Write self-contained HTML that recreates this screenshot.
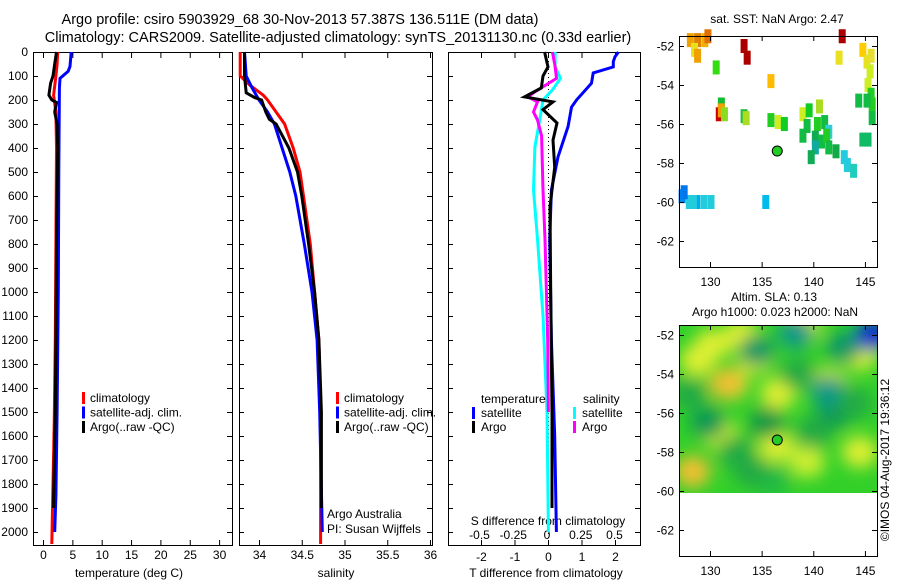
<!DOCTYPE html>
<html><head><meta charset="utf-8"><style>
html,body{margin:0;padding:0;background:#fff}
svg{display:block;font-family:"Liberation Sans",sans-serif}
</style></head><body>
<svg id="c" width="900" height="580" viewBox="0 0 900 580">
<defs>
<clipPath id="cp2"><rect x="679" y="325" width="198" height="168"/></clipPath>
<filter id="bl" x="-50%" y="-50%" width="200%" height="200%"><feGaussianBlur stdDeviation="8"/></filter>
</defs>
<g font-size="14.5" text-anchor="middle">
<text x="300" y="24">Argo profile: csiro 5903929_68 30-Nov-2013 57.387S 136.511E (DM data)</text>
<text x="338" y="42">Climatology: CARS2009. Satellite-adjusted climatology: synTS_20131130.nc (0.33d earlier)</text>
</g>
<g id="g"></g>
</svg>
<script>
// ---- data ----
const tDepth=[0,50,100,180,250,400,800,1200,1550,1800,2050];
const tClim=[2.5,2.4,2.2,1.8,2.2,2.3,2.2,2.1,1.9,1.7,1.5];
const tSatDepth=[0,60,80,110,150,500,1000,1500,1850,2000];
const tSat=[4.8,4.6,4.3,2.9,2.8,2.7,2.6,2.4,2.2,2.0];
const tArgoDepth=[0,50,100,130,180,200,210,250,300,400,800,1200,1500,1850,1900];
const tArgo=[2.3,2.0,1.7,1.3,1.0,1.5,2.3,2.0,2.4,2.5,2.3,2.2,2.1,1.8,1.8];
const sDepth=[0,100,140,180,200,250,300,400,500,600,800,1000,1200,1500,2050];
const sClim=[33.78,33.78,33.9,34.05,34.1,34.2,34.3,34.4,34.48,34.52,34.6,34.65,34.7,34.72,34.72];
const sSatDepth=[0,100,150,200,250,300,400,500,600,800,1000,1200,1500,2000];
const sSat=[33.83,33.85,33.92,34.0,34.1,34.18,34.27,34.36,34.43,34.53,34.62,34.68,34.71,34.74];
const sArgoDepth=[0,100,170,190,200,250,280,300,400,500,600,800,1000,1200,1500,1900];
const sArgo=[33.83,33.83,33.85,33.95,34.03,34.08,34.12,34.2,34.35,34.45,34.5,34.58,34.65,34.7,34.73,34.73];
const dTSatDepth=[0,20,40,62,87,130,200,230,310,437,575,780,1200,1600,2000];
const dTSat=[2.1,2.0,1.95,1.95,1.35,1.3,0.85,0.7,0.6,0.3,0.1,0.05,0.1,0.2,0.25];
const dTArgoDepth=[0,62,100,150,187,208,240,296,367,480,645,1000,1500,1900];
const dTArgo=[-0.1,0,-0.15,-0.2,-0.7,0.15,-0.15,0.27,0.15,0.2,0.06,0.08,0.12,0.12];
const dSSatDepth=[0,62,110,158,200,270,395,575,780,1100,1500,2000];
const dSSat=[0.06,0.06,0.1,0.04,-0.03,-0.05,-0.09,-0.1,-0.07,-0.03,0,0.01];
const dSArgoDepth=[0,60,110,166,187,208,250,283,350,575,780,1200,1500];
const dSArgo=[0.04,0.06,0.07,-0.09,-0.14,-0.07,-0.1,-0.07,-0.04,-0.03,-0.015,0.005,0.01];
const depthTicks=[0,100,200,300,400,500,600,700,800,900,1000,1100,1200,1300,1400,1500,1600,1700,1800,1900,2000];
const tTicks=[0,5,10,15,20,25,30];
const sTicks=[34,34.5,35,35.5,36];
const dTTicks=[-2,-1,0,1,2];
const dSTicks=[-0.5,-0.25,0,0.25,0.5];
const dSTickLabels=["-0.5","-0.25","0","0.25","0.5"];
const lonTicks=[130,135,140,145];
const latTicks=[-52,-54,-56,-58,-60,-62];
// SST cells: lon, lat, colour
const sstLon=[128.1,128.8,129.5,129.8,128.5,128.8,130.6,133.3,133.6,135.9,142.8,142.5,144.8,145.2,145.6,145.5,145.3,145.6,145.7,144.4,145.2,145.7,131.1,130.9,131.1,131.4,133.3,133.5,135.9,136.6,137.2,139.0,139.6,140.6,139.4,140.4,141.1,139.0,140.2,140.8,141.5,141.3,141.5,140.2,142.2,143.0,143.3,143.9,144.8,145.3,139.8,135.4,127.3,128.0,128.7,129.4,130.1,127.5,128.4];
const sstLat=[-51.7,-51.7,-51.7,-51.5,-52.2,-52.5,-53.1,-52.0,-52.6,-53.8,-51.5,-52.6,-52.2,-52.8,-52.5,-53.3,-54.0,-54.5,-55.0,-54.8,-54.8,-55.7,-55.0,-55.5,-55.3,-55.5,-55.6,-55.7,-55.8,-55.9,-56.0,-55.5,-55.3,-55.1,-56.1,-56.0,-55.9,-56.6,-56.7,-56.9,-56.4,-56.6,-57.2,-57.2,-57.4,-57.7,-58.1,-58.4,-56.8,-56.8,-57.7,-60.0,-59.7,-60.0,-60.0,-60.0,-60.0,-59.5,-60.0];
const sstCol=["#f0a000","#e08000","#f0b000","#e07000","#e8e020","#f0a000","#33dd11","#aa0000","#aa0000","#ffbb00","#aa0000","#e8e020","#ffcc00","#e8e020","#e8e030","#ccee22","#ccee22","#22cc22","#22cc22","#11bb44","#11bb44","#11bb44","#11bb33","#cc0000","#f0a000","#88dd22","#22bb44","#aadd22","#22cc22","#ccee22","#11cc22","#ccee22","#11cc22","#aadd22","#11bb44","#22cc22","#11bb44","#11bb44","#11aa55","#11bb44","#33ccdd","#22cc22","#11bb44","#11aaa0","#11aa44","#22ccdd","#22ccdd","#22ccbb","#11bb66","#11bb66","#11aa55","#00bbee","#0088ee","#22ccdd","#00aaee","#22ccdd","#22ccdd","#0077ee","#22ccdd"];
// SLA blobs: lon, lat, colour
const slaLon=[130.2,128.8,132.0,131.7,134.3,136.6,136.4,133.0,139.0,141.5,144.5,128.3,144.5,131.0,139.4,134.5,129.8,138.3,143.0,135.5,142.0,145.8,141.5,136.0,128.0,134.0,140.0,144.0,132.5,138.5];
const slaLat=[-52.5,-53.3,-54.5,-54.5,-53.2,-55.0,-57.7,-52.0,-51.6,-54.5,-53.0,-59.0,-58.0,-57.1,-58.5,-52.8,-56.5,-51.9,-52.6,-56.5,-56.0,-52.0,-54.9,-59.5,-55.0,-59.0,-57.0,-55.5,-58.0,-54.0];
const slaCol=["#ddee33","#ddee33","#ddee33","#f0c030","#ddee33","#ddee33","#ddee33","#ddee33","#ddee33","#ddee33","#ddee33","#f0c030","#ddee33","#ccee33","#ccee33","#119966","#119955","#119988","#119966","#119944","#119955","#1133cc","#119988","#22bb44","#22aa44","#22aa44","#22aa44","#22aa44","#22aa44","#22aa44"];

const NS="http://www.w3.org/2000/svg";
const G=document.getElementById('g');
function mk(t,a,p){const e=document.createElementNS(NS,t);for(const k in a)e.setAttribute(k,a[k]);(p||G).appendChild(e);return e;}
const yD=d=>52+d*0.24;
const xT=v=>43+v*5.87;
const xS=v=>259+(v-34)*85.5;
const xDT=v=>548+v*33.5;
const xDS=v=>547+v*135;
function stepPath(xs,ds,fx){let p='';for(let i=0;i<xs.length;i++){const x=fx(xs[i]),y=yD(ds[i]);p+=(i?'L':'M')+x.toFixed(1)+','+y.toFixed(1);}return p;}
function line(xs,ds,fx,col,name,par){const e=mk('path',{d:stepPath(xs,ds,fx),fill:'none',stroke:col,'stroke-width':3,'stroke-linejoin':'miter'},par);

}
function txt(x,y,s,opt,par){const e=mk('text',Object.assign({x:x,y:y,'font-size':12},opt||{}),par);e.textContent=s;return e;}

function panel(x0,x1,name){const g=mk('g',{});


const r=mk('rect',{x:x0+.5,y:52.5,width:x1-x0,height:493,fill:'none',stroke:'#000','stroke-width':1},g);


depthTicks.forEach(d=>{const y=yD(d)+.5;mk('line',{x1:x0,x2:x0+5,y1:y,y2:y,stroke:'#000'},g);mk('line',{x1:x1-5,x2:x1,y1:y,y2:y,stroke:'#000'},g);});
return g;}

// Panel 1
const p1=panel(33,232,'temperature-panel');
depthTicks.forEach(d=>{const t=txt(28,yD(d)+4,String(d),{'text-anchor':'end'},p1);

});
tTicks.forEach(v=>{const x=xT(v)+.5;mk('line',{x1:x,x2:x,y1:540,y2:545,stroke:'#000'},p1);mk('line',{x1:x,x2:x,y1:53,y2:58,stroke:'#000'},p1);
const t=txt(x,559,String(v),{'text-anchor':'middle'},p1);

});
let at=txt(129,577,'temperature (deg C)',{'text-anchor':'middle'},p1);


line(tClim,tDepth,xT,'#f00','temperature-climatology-line',p1);
line(tSat,tSatDepth,xT,'#00f','temperature-satellite-line',p1);
line(tArgo,tArgoDepth,xT,'#000','temperature-argo-line',p1);
function legend(par,x,items){items.forEach((it,i)=>{const y=398+i*14.5;const lg=mk('g',{},par);


mk('rect',{x:x,y:y-6,width:3,height:12,fill:it[1]},lg);txt(x+8,y+4,it[0],{},lg);});}
legend(p1,82,[['climatology','#f00'],['satellite-adj. clim.','#00f'],['Argo(..raw -QC)','#000']]);

// Panel 2
const p2=panel(239,432,'salinity-panel');
sTicks.forEach(v=>{const x=xS(v)+.5;mk('line',{x1:x,x2:x,y1:540,y2:545,stroke:'#000'},p2);mk('line',{x1:x,x2:x,y1:53,y2:58,stroke:'#000'},p2);
const t=txt(x,559,String(v),{'text-anchor':'middle'},p2);

});
at=txt(336,577,'salinity',{'text-anchor':'middle'},p2);


line(sClim,sDepth,xS,'#f00','salinity-climatology-line',p2);
line(sSat,sSatDepth,xS,'#00f','salinity-satellite-line',p2);
line(sArgo,sArgoDepth,xS,'#000','salinity-argo-line',p2);
legend(p2,336,[['climatology','#f00'],['satellite-adj. clim.','#00f'],['Argo(..raw -QC)','#000']]);
at=txt(327,518,'Argo Australia',{},p2);


at=txt(327,533,'PI: Susan Wijffels',{},p2);



// Panel 3
const p3=panel(448,640,'difference-panel');
mk('line',{x1:548.5,x2:548.5,y1:53,y2:545,stroke:'#000','stroke-dasharray':'1,3'},p3);
dTTicks.forEach(v=>{const x=xDT(v)+.5;mk('line',{x1:x,x2:x,y1:540,y2:545,stroke:'#000'},p3);mk('line',{x1:x,x2:x,y1:53,y2:58,stroke:'#000'},p3);
const t=txt(x,561,String(v),{'text-anchor':'middle'},p3);

});
dSTicks.forEach((v,i)=>{const t=txt(xDS(v),539,dSTickLabels[i],{'text-anchor':'middle'},p3);

});
at=txt(548,525,'S difference from climatology',{'text-anchor':'middle'},p3);


at=txt(546,577,'T difference from climatology',{'text-anchor':'middle'},p3);


line(dSSat,dSSatDepth,xDS,'#0ff','s-diff-satellite-line',p3);
line(dSArgo,dSArgoDepth,xDS,'#f0f','s-diff-argo-line',p3);
line(dTSat,dTSatDepth,xDT,'#00f','t-diff-satellite-line',p3);
line(dTArgo,dTArgoDepth,xDT,'#000','t-diff-argo-line',p3);
txt(481,403,'temperature',{},p3);txt(583,403,'salinity',{},p3);
[['satellite','#00f',472,417],['Argo','#000',472,431],['satellite','#0ff',573,417],['Argo','#f0f',573,431]].forEach(it=>{
const lg=mk('g',{},p3);


mk('rect',{x:it[2],y:it[3]-10,width:3,height:12,fill:it[1]},lg);txt(it[2]+9,it[3],it[0],{},lg);});

// maps
const mlon=v=>679+(v-127)*10.33;
function mapFrame(y0,name){const g=mk('g',{});


const mlat=v=>y0+10+(-52-v)*19.5;
return {g,mlat};}
const m1=mapFrame(36,'sst-map'),m2=mapFrame(325,'sla-map');
sstLon.forEach((lo,i)=>{const r=mk('rect',{x:mlon(lo)-3.5,y:m1.mlat(sstLat[i])-7,width:7,height:14,fill:sstCol[i]},m1.g);

});
const sg=mk('g',{'clip-path':'url(#cp2)'},m2.g);
mk('rect',{x:679,y:325,width:198,height:168,fill:'#33d02a'},sg);
const bg=mk('g',{filter:'url(#bl)'},sg);
slaLon.forEach((lo,i)=>{const e=mk('ellipse',{cx:mlon(lo),cy:m2.mlat(slaLat[i]),rx:18,ry:16,fill:slaCol[i]},bg);

});
[[m1,36],[m2,325]].forEach(([m,y0])=>{
const f=mk('rect',{x:679.5,y:y0+.5,width:198,height:231,fill:'none',stroke:'#000'},m.g);


latTicks.forEach(v=>{const y=m.mlat(v)+.5;mk('line',{x1:679,x2:684,y1:y,y2:y,stroke:'#000'},m.g);mk('line',{x1:872,x2:877,y1:y,y2:y,stroke:'#000'},m.g);
const t=txt(674,y+4,String(v),{'text-anchor':'end'},m.g);

});
lonTicks.forEach(v=>{const x=mlon(v)+.5;mk('line',{x1:x,x2:x,y1:y0,y2:y0+5,stroke:'#000'},m.g);mk('line',{x1:x,x2:x,y1:y0+226,y2:y0+231,stroke:'#000'},m.g);
const t=txt(x,y0+250,String(v),{'text-anchor':'middle'},m.g);

});
const c=mk('circle',{cx:mlon(136.511),cy:m.mlat(-57.387),r:5,fill:'#22cc22',stroke:'#000','stroke-width':1},m.g);


});
at=txt(777,23,'sat. SST: NaN Argo: 2.47',{'text-anchor':'middle'},m1.g);


at=txt(774,301,'Altim. SLA: 0.13',{'text-anchor':'middle'},m2.g);


at=txt(775,316,'Argo h1000: 0.023 h2000: NaN',{'text-anchor':'middle'},m2.g);


at=txt(0,0,'©IMOS 04-Aug-2017 19:36:12',{'text-anchor':'middle',transform:'translate(889,460) rotate(-90)'});


</script>
</body></html>
